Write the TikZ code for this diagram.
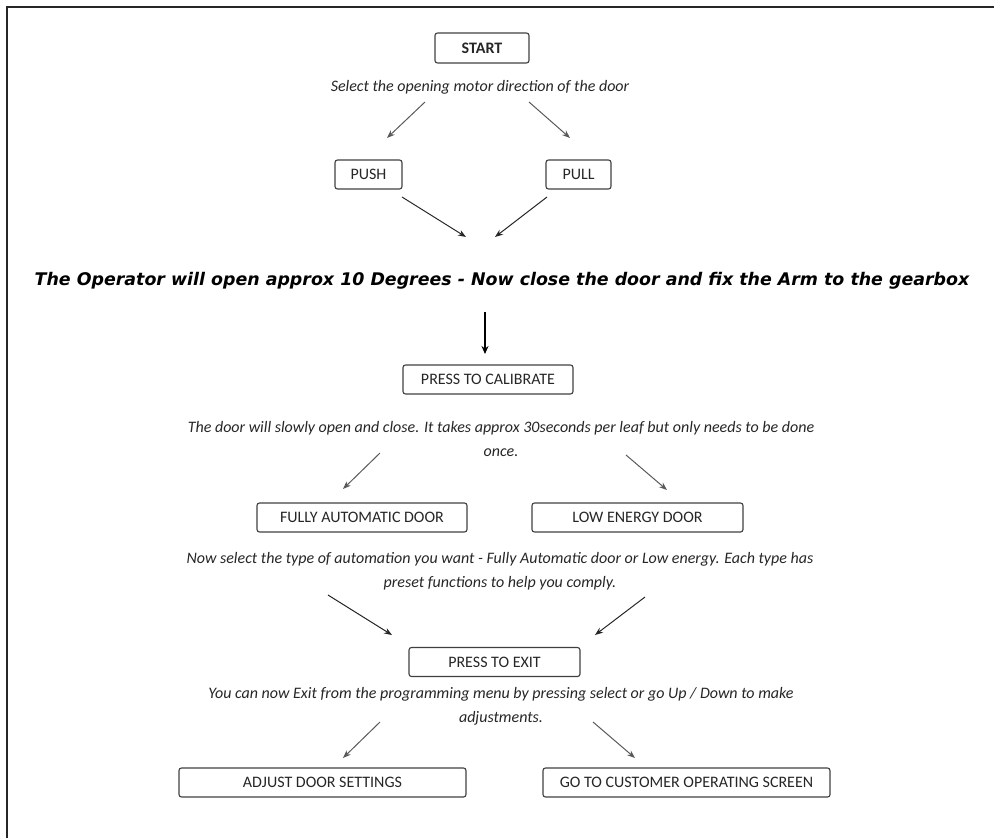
\documentclass[tikz,border=0pt]{standalone}
\usepackage{fontspec}
\setmainfont{Carlito}
\newfontfamily\heavyfont{DejaVu Sans}
\usetikzlibrary{arrows.meta}

\tikzset{
  caixa/.style={draw=black!75, line width=1.1pt, rounded corners=2.5pt, inner sep=0pt,
    minimum height=29pt, text=black!85, font=\fontsize{16}{18}\selectfont},
  nota/.style={inner sep=0pt, align=center, text=black!85, font=\fontsize{16}{24}\selectfont\itshape},
  seta/.style={-{Stealth[length=8pt,width=6pt]}, draw=black!65, line width=1pt},
}

\begin{document}
\begin{tikzpicture}[x=1pt,y=-1pt]
        \useasboundingbox (0,0) rectangle (994,838);

        % Moldura
        \draw[line width=2.5pt, black!85] (7,838) -- (7,7) -- (994,7);

        % Caixas
        \node[caixa, minimum width=94pt, minimum height=30pt, font=\fontsize{16}{18}\selectfont\bfseries] (start) at (482,48) {START};
        \node[caixa, minimum width=67pt] (push) at (368.5,174.5) {PUSH};
        \node[caixa, minimum width=65pt] (pull) at (578.5,174.5) {PULL};
        \node[caixa, minimum width=170pt] (calib) at (488,379.5) {PRESS TO CALIBRATE};
        \node[caixa, minimum width=210pt] (auto) at (362,517.5) {FULLY AUTOMATIC DOOR};
        \node[caixa, minimum width=211pt] (lowen) at (637.5,517.5) {LOW ENERGY DOOR};
        \node[caixa, minimum width=171pt] (exit) at (494.5,662) {PRESS TO EXIT};
        \node[caixa, minimum width=287pt] (adjust) at (322.5,782.5) {ADJUST DOOR SETTINGS};
        \node[caixa, minimum width=287pt] (screen) at (686.5,782.5) {GO TO CUSTOMER OPERATING SCREEN};

        % Textos
        \node[nota] (sel) at (480,87) {Select the opening motor direction of the door};
        \node[inner sep=0pt, font=\fontsize{17.4}{18}\selectfont\heavyfont\bfseries\itshape] (aviso) at (502,281)
          {The Operator will open approx 10 Degrees - Now close the door and fix the Arm to the gearbox};
        \node[nota] (txtcal) at (501,439) {The door will slowly open and close. It takes approx 30seconds per leaf but only needs to be done\\ once.};
        \node[nota] (txtauto) at (500,571) {Now select the type of automation you want - Fully Automatic door or Low energy. Each type has\\ preset functions to help you comply.};
        \node[nota] (txtexit) at (501,706) {You can now Exit from the programming menu by pressing select or go Up / Down to make\\ adjustments.};

        % Pontas das setas
        \coordinate (s1a) at (425,102);  \coordinate (s1b) at (387,138);
        \coordinate (s2a) at (529,102);  \coordinate (s2b) at (570,138);
        \coordinate (s3a) at (402,197);  \coordinate (s3b) at (466,237);
        \coordinate (s4a) at (547,197);  \coordinate (s4b) at (495,237);
        \coordinate (s5a) at (485,312);  \coordinate (s5b) at (485,354);
        \coordinate (s6a) at (380,453);  \coordinate (s6b) at (343,489);
        \coordinate (s7a) at (626,455);  \coordinate (s7b) at (667,490);
        \coordinate (s8a) at (328,595);  \coordinate (s8b) at (392,635);
        \coordinate (s9a) at (645,597);  \coordinate (s9b) at (595,635);
        \coordinate (s10a) at (380,722); \coordinate (s10b) at (343,758);
        \coordinate (s11a) at (593,722); \coordinate (s11b) at (635,758);

        % Setas
        \draw[seta] (s1a) -- (s1b);
        \draw[seta] (s2a) -- (s2b);
        \draw[seta, draw=black!85] (s3a) -- (s3b);
        \draw[seta, draw=black!85] (s4a) -- (s4b);
        \draw[-{Stealth[length=8pt,width=7pt]}, line width=1.4pt] (s5a) -- (s5b);
        \draw[seta] (s6a) -- (s6b);
        \draw[seta] (s7a) -- (s7b);
        \draw[seta, draw=black!85] (s8a) -- (s8b);
        \draw[seta, draw=black!85] (s9a) -- (s9b);
        \draw[seta] (s10a) -- (s10b);
        \draw[seta] (s11a) -- (s11b);
    \end{tikzpicture}
\end{document}
